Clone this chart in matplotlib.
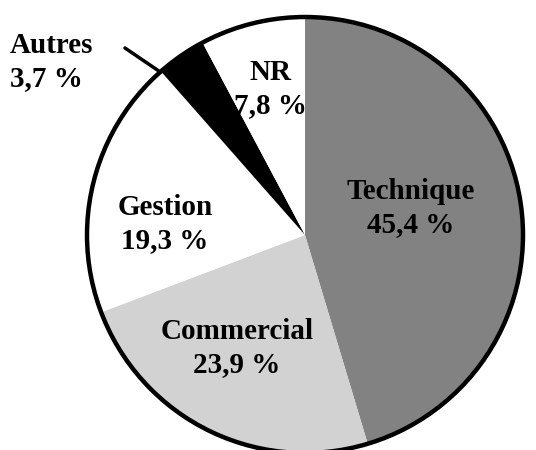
import matplotlib
matplotlib.use("Agg")
import matplotlib.pyplot as plt
import numpy as np

# répartition par fonction (%)
categories = ["Technique", "Commercial", "Gestion", "Autres", "NR"]
values = [45.4, 23.9, 19.3, 3.7, 7.8]
colors = ["#828282", "#d2d2d2", "#ffffff", "#000000", "#ffffff"]

# position des étiquettes (pixels, origine en bas à gauche)
label_pos = [(411, 242), (237, 102), (165, 226), (10, 388), (270, 361)]
label_ha = ["center", "center", "center", "left", "center"]


def fmt(v):
    return ("%.1f %%" % v).replace(".", ",")


def main():
    fig = plt.figure(figsize=(5.36, 4.5), dpi=100)
    ax = fig.add_axes([0, 0, 1, 1])

    cx, cy, r = 305, 215, 218
    wedges, _ = ax.pie(values, colors=colors, startangle=90, counterclock=False,
                       center=(cx, cy), radius=r, frame=True,
                       wedgeprops=dict(linewidth=0, edgecolor="none"))

    # contour du disque
    circ = plt.Circle((cx, cy), r, fill=False, edgecolor="black", lw=3.2)
    ax.add_patch(circ)

    for name, v, (x, y), ha in zip(categories, values, label_pos, label_ha):
        ax.text(x, y, name + "\n" + fmt(v), ha=ha, va="center",
                fontsize=21, fontweight="bold", family="Liberation Serif",
                linespacing=1.3, multialignment=ha)

    # trait de rappel pour "Autres"
    a = np.deg2rad(wedges[3].theta2)
    ax.plot([125, cx + (r + 3) * np.cos(a)], [402, cy + (r + 3) * np.sin(a) - 2],
            color="black", lw=2.5, solid_capstyle="round")

    ax.set_xlim(0, 536)
    ax.set_ylim(0, 450)
    ax.set_aspect("equal")
    ax.axis("off")
    fig.savefig("out.png", dpi=100)


if __name__ == '__main__':
    main()
